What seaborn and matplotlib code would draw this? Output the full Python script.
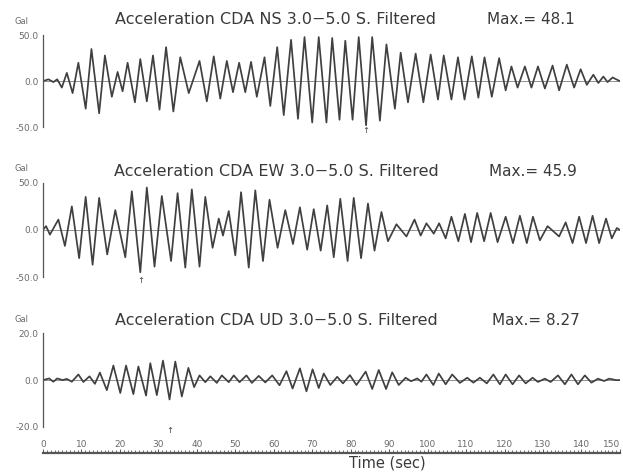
import matplotlib
matplotlib.use('Agg')
import matplotlib.pyplot as plt
import seaborn as sns
from matplotlib.ticker import MultipleLocator

# extrema (time in sec, acceleration in Gal)
ns_t = [0, 1.4, 2.7, 3.7, 4.9, 6.2, 7.7, 9.2, 11.1, 12.6, 14.6, 16.1, 17.9, 19.4, 20.7,
        22.0, 23.9, 25.3, 27.0, 28.6, 30.3, 32.0, 33.9, 35.7, 37.9, 40.7, 42.6, 44.4, 46.1,
        47.8, 49.4, 51.0, 52.6, 54.1, 55.6, 57.6, 59.1, 60.9, 62.6, 64.5, 66.3, 68.0, 70.0,
        71.7, 73.7, 75.2, 77.1, 78.6, 80.5, 82.1, 84.0, 85.6, 87.6, 89.3, 91.5, 93.0, 94.9,
        96.9, 98.9, 100.8, 102.7, 104.2, 106.2, 107.9, 109.6, 111.5, 113.2, 114.8, 116.7,
        118.6, 120.3, 121.8, 123.4, 125.3, 127.0, 128.7, 130.5, 132.5, 134.2, 136.2, 138.1,
        139.8, 141.4, 143.1, 144.4, 145.7, 146.8, 148.1, 150]
ns_v = [0, 2, -1, 2, -7, 9, -13, 20, -30, 35, -35, 28, -17, 10, -11,
        20, -23, 24, -22, 28, -31, 37, -33, 26, -13, 22, -22, 27, -19,
        22, -12, 20, -12, 21, -17, 26, -27, 37, -37, 45, -41, 48, -45,
        48, -45, 47, -42, 44, -42, 48, -48, 48, -43, 40, -30, 31, -23,
        30, -23, 29, -20, 28, -20, 26, -20, 27, -18, 26, -17,
        25, -10, 16, -7, 16, -7, 16, -8, 17, -10, 18, -7,
        13, -4, 7, -2, 5, -1, 4, 0]

ew_t = [0, 0.8, 1.8, 4.0, 5.7, 7.5, 9.4, 11.1, 12.9, 14.6, 16.7, 18.8, 21.4, 23.1, 25.3,
        27.0, 29.0, 30.9, 33.3, 35.0, 37.0, 38.7, 40.7, 42.2, 44.1, 45.7, 46.8, 48.3, 50.0,
        51.5, 53.5, 55.2, 57.2, 58.9, 61.0, 63.0, 65.0, 66.8, 68.7, 70.4, 72.2, 73.9, 75.6,
        77.3, 79.2, 80.8, 82.7, 84.5, 86.2, 88.0, 89.7, 91.9, 94.5, 96.6, 98.2, 99.7, 101.6,
        103.0, 104.7, 106.2, 108.0, 109.7, 111.3, 112.9, 114.7, 116.4, 118.2, 120.3, 122.2,
        124.0, 125.8, 127.4, 129.2, 131.2, 134.2, 135.9, 137.7, 139.4, 141.2, 142.9, 144.6,
        146.4, 147.9, 149.2, 150]
ew_v = [0, 4, -5, 11, -17, 25, -30, 35, -37, 34, -26, 21, -29, 41, -45,
        45, -39, 36, -33, 39, -40, 43, -39, 35, -19, 12, -6, 20, -27,
        40, -40, 42, -33, 32, -19, 21, -15, 24, -21, 22, -22, 26, -29,
        33, -33, 34, -30, 28, -22, 19, -12, 6, -7, 11, -6, 7, -4,
        7, -9, 14, -12, 17, -13, 18, -12, 18, -13, 14, -14,
        15, -14, 14, -11, 4, -7, 8, -14, 14, -14, 15, -14,
        12, -9, 2, 0]

ud_t = [0, 1.6, 2.7, 3.7, 5.1, 6.2, 7.5, 9.2, 10.5, 12.1, 13.5, 14.8, 16.6, 18.3, 20.1,
        21.6, 23.5, 24.8, 26.8, 27.9, 29.6, 31.2, 32.9, 34.4, 36.1, 37.8, 39.3, 40.7, 42.2,
        43.5, 45.2, 46.5, 48.3, 49.6, 51.1, 52.9, 54.3, 56.1, 57.8, 59.6, 61.5, 63.3, 64.9,
        66.8, 68.5, 70.1, 71.7, 73.0, 74.7, 76.5, 78.0, 79.8, 81.5, 83.9, 85.6, 87.3, 89.2,
        90.8, 92.5, 94.3, 95.7, 97.3, 98.4, 99.7, 101.5, 102.9, 104.7, 106.4, 108.4, 110.3,
        111.9, 113.6, 115.4, 117.1, 118.8, 120.3, 122.1, 123.8, 125.5, 127.3, 128.7, 130.5,
        132.0, 133.9, 135.7, 137.4, 139.1, 140.9, 142.6, 144.3, 145.9, 147.2, 149.0, 150]
ud_v = [0, 0.7, -0.7, 0.7, 0, 0.5, -0.7, 2.4, -0.8, 1.6, -1.6, 3.2, -4.3, 6.2, -5.5,
        6.2, -6.0, 5.8, -6.6, 7.2, -6.4, 8.3, -8.27, 7.9, -7.0, 5.2, -3.0, 2.0, -0.9,
        1.6, -1.2, 2.0, -0.9, 2.0, -0.9, 2.0, -1.2, 1.8, -1.0, 2.0, -2.2, 3.8, -3.6,
        5.0, -4.8, 4.6, -3.4, 2.8, -2.1, 1.4, -1.4, 2.1, -2.1, 3.6, -3.8, 4.3, -3.8,
        3.3, -2.1, 1.0, -0.5, 0.7, -0.7, 2.4, -2.1, 2.8, -1.8, 2.4, -1.2, 1.0,
        -1.1, 1.0, -1.4, 2.4, -1.8, 2.4, -1.8, 2.0, -1.4, 1.0, -0.8, 0.6,
        -0.8, 2.0, -1.8, 2.4, -1.8, 2.0, -1.1, 0.6, -0.4, 0.6, 0, 0]

components = ['NS', 'EW', 'UD']
max_labels = ['48.1', '45.9', '8.27']
y_limits = [50, 50, 20]
peak_times = [84.0, 25.3, 32.9]
time_ticks = list(range(0, 151, 10))

sns.set_style('white')
plt.rcParams['font.family'] = ['DejaVu Sans']

trace_color = '#404040'
text_color = '#3a3a3a'
tick_color = '#6a6a6a'

fig = plt.figure(figsize=(6.23, 4.76), dpi=100)
boxes = [[0.069, 0.733, 0.926, 0.193],
         [0.069, 0.418, 0.926, 0.198],
         [0.069, 0.103, 0.926, 0.197]]
title_y = [0.958, 0.639, 0.326]
max_x = [0.781, 0.785, 0.789]
series = [(ns_t, ns_v), (ew_t, ew_v), (ud_t, ud_v)]

for i, (box, (t, v)) in enumerate(zip(boxes, series)):
    ax = fig.add_axes(box)
    lim = y_limits[i]
    ax.axhline(0, color='#808080', lw=0.6, zorder=1)
    sns.lineplot(x=t, y=v, ax=ax, color=trace_color, lw=1.25,
                 estimator=None, sort=False, zorder=2)
    ax.lines[-1].set_solid_joinstyle('round')
    ax.set_xlim(0, 150)
    ax.set_ylim(-lim, lim)
    for s in ['top', 'right', 'bottom']:
        ax.spines[s].set_visible(False)
    ax.spines['left'].set_color('#555555')
    ax.spines['left'].set_linewidth(0.9)
    ax.set_xticks([])
    ax.set_yticks([-lim, 0, lim])
    ax.set_yticklabels([f'{y:.1f}' for y in (-lim, 0, lim)])
    ax.yaxis.set_minor_locator(MultipleLocator(lim / 10))
    ax.tick_params(axis='y', which='major', direction='in', length=4, width=0.9,
                   color='#555555', labelsize=6.5, labelcolor=tick_color, pad=3)
    ax.tick_params(axis='y', which='minor', direction='in', length=1.5, width=0.6,
                   color='#888888')
    ax.text(-0.038, 1.15, 'Gal', transform=ax.transAxes, ha='center', va='center',
            fontsize=6, color=tick_color)
    ax.text(peak_times[i], -lim * 0.98, '↑', ha='center', va='top', fontsize=6,
            color=trace_color, clip_on=False)
    fig.text(0.443, title_y[i], f'Acceleration CDA {components[i]} 3.0\u22125.0 S. Filtered',
             ha='center', va='center', fontsize=11.5, color=text_color)
    fig.text(max_x[i], title_y[i], f'Max.= {max_labels[i]}', ha='left', va='center',
             fontsize=11, color=text_color)

# time ruler under the bottom panel
ax_r = fig.add_axes([0.069, 0.048, 0.926, 0.0001])
for s in ['top', 'right', 'left']:
    ax_r.spines[s].set_visible(False)
ax_r.spines['bottom'].set_linewidth(1.6)
ax_r.spines['bottom'].set_color('#555555')
ax_r.set_xlim(0, 150)
ax_r.set_yticks([])
ax_r.set_xticks(time_ticks)
ax_r.set_xticklabels([str(x) for x in time_ticks])
ax_r.xaxis.set_minor_locator(MultipleLocator(1))
ax_r.tick_params(axis='x', which='both', direction='in', bottom=True, top=False,
                 labelbottom=False, labeltop=True, color='#555555')
ax_r.tick_params(axis='x', which='major', length=3, width=0.7, labelsize=6.5,
                 labelcolor=tick_color, pad=3)
ax_r.tick_params(axis='x', which='minor', length=2.5, width=0.6)
ax_r.get_xticklabels()[-1].set_horizontalalignment('right')

fig.text(0.622, 0.027, 'Time (sec)', ha='center', va='center', fontsize=10.5,
         color=text_color)

fig.savefig('out.png', dpi=100)
